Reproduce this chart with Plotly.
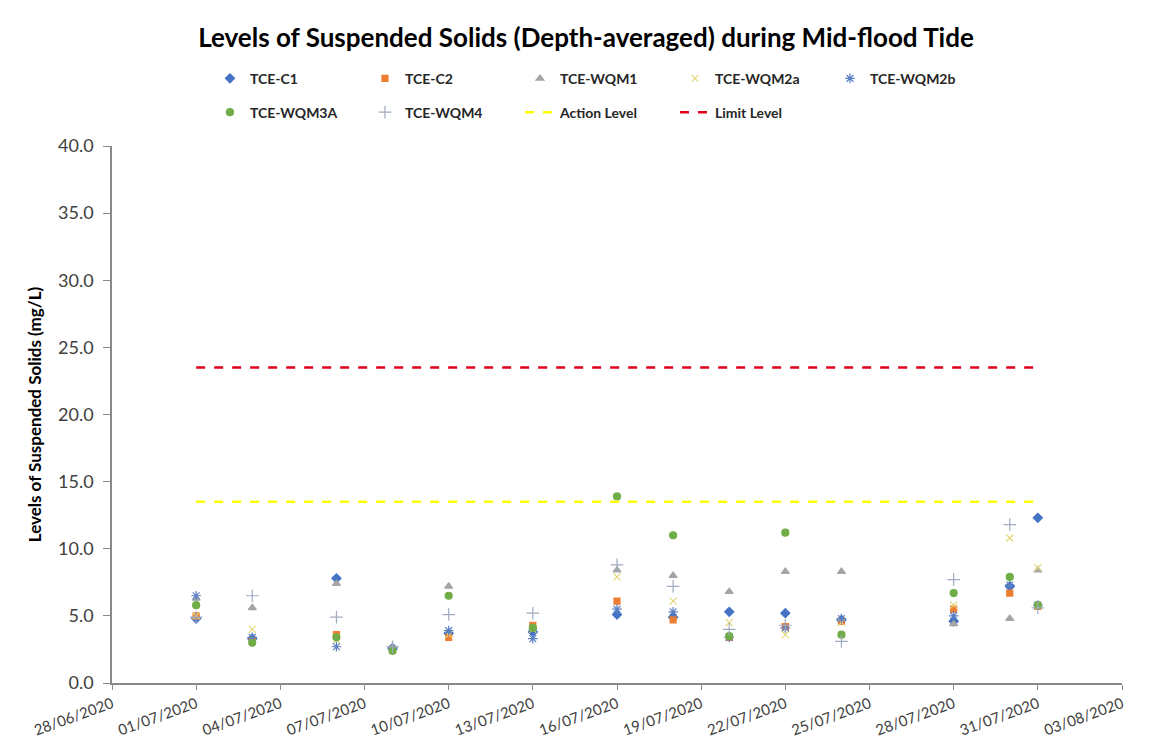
import plotly.graph_objects as go

# datas de amostragem
datas = ['2020-07-01', '2020-07-03', '2020-07-06', '2020-07-08', '2020-07-10',
         '2020-07-13', '2020-07-16', '2020-07-18', '2020-07-20', '2020-07-22',
         '2020-07-24', '2020-07-28', '2020-07-30', '2020-07-31']

tce_c1 = [4.8, 3.3, 7.8, 2.6, 3.7, 3.8, 5.1, 4.9, 5.3, 5.2, 4.7, 4.6, 7.2, 12.3]
tce_c2 = [5.0, 3.2, 3.6, 2.5, 3.4, 4.3, 6.1, 4.7, 3.4, 4.2, 4.6, 5.5, 6.7, 5.7]
tce_wqm1 = [6.3, 5.6, 7.4, 2.6, 7.2, 4.1, 8.4, 8.0, 6.8, 8.3, 8.3, 4.4, 4.8, 8.4]
tce_wqm2a = [5.0, 4.0, 3.2, 2.4, 3.6, 4.0, 7.9, 6.1, 4.5, 3.6, 4.5, 5.8, 10.8, 8.6]
tce_wqm2b = [6.5, 3.4, 2.7, 2.5, 3.9, 3.3, 5.5, 5.3, 3.4, 4.1, 4.8, 5.0, 7.3, 5.8]
tce_wqm3a = [5.8, 3.0, 3.4, 2.4, 6.5, 4.1, 13.9, 11.0, 3.5, 11.2, 3.6, 6.7, 7.9, 5.8]
tce_wqm4 = [4.9, 6.5, 4.9, 2.7, 5.1, 5.2, 8.8, 7.2, 4.0, 4.3, 3.1, 7.7, 11.8, 5.6]

nivel_datas = ['2020-07-01', '2020-07-31']
action_level = [13.5, 13.5]
limit_level = [23.5, 23.5]

fonte = 'Lato'

series = [('TCE-C1', tce_c1, 'diamond', '#4472C4', 7, 'legend'),
          ('TCE-C2', tce_c2, 'square', '#ED7D31', 6, 'legend'),
          ('TCE-WQM1', tce_wqm1, 'triangle-up', '#A5A5A5', 7, 'legend'),
          ('TCE-WQM2a', tce_wqm2a, 'x-thin-open', '#E3D77A', 7, 'legend'),
          ('TCE-WQM2b', tce_wqm2b, 'asterisk-open', '#5B7FC4', 8, 'legend'),
          ('TCE-WQM3A', tce_wqm3a, 'circle', '#70AD47', 7, 'legend2'),
          ('TCE-WQM4', tce_wqm4, 'cross-thin-open', '#A0AAC0', 9, 'legend2')]

data = [go.Scatter(x=datas, y=_y, name=_nome, mode='markers', legend=_leg,
                   marker=dict(symbol=_sym, color=_cor, size=_tam,
                               line=dict(width=1.2, color=_cor)))
        for _nome, _y, _sym, _cor, _tam, _leg in series]

data += [go.Scatter(x=nivel_datas, y=action_level, name='Action Level', mode='lines',
                    legend='legend2', line=dict(color='#FFFF00', width=2.5, dash='dash')),
         go.Scatter(x=nivel_datas, y=limit_level, name='Limit Level', mode='lines',
                    legend='legend2', line=dict(color='#E0001B', width=2.5, dash='dash'))]

fig = go.Figure(data)

leg = dict(orientation='h', xanchor='left', yanchor='top', entrywidth=110,
           bgcolor='rgba(0,0,0,0)', font=dict(family=fonte, size=14, color='#262626', weight='bold'))

fig.update_layout(title=dict(text='<b>Levels of Suspended Solids (Depth-averaged) during Mid-flood Tide</b>',
                             x=0.5, xanchor='center', y=0.96, yanchor='middle',
                             font=dict(family=fonte, size=26, color='#000000')),
                  width=1156,
                  height=756,
                  margin=dict(l=104, r=42, t=138, b=81),
                  plot_bgcolor='white',
                  paper_bgcolor='white',
                  font=dict(family=fonte, color='#404040'),
                  legend=dict(leg, x=0.097, y=1.155),
                  legend2=dict(leg, x=0.097, y=1.092))

fig.update_xaxes(type='date', range=['2020-06-28', '2020-08-03'],
                 tick0='2020-06-28', dtick=3 * 86400000, tickformat='%d/%m/%Y',
                 tickangle=-20, ticks='outside', ticklen=5, tickcolor='#898989',
                 showline=True, linecolor='#898989', linewidth=1.5, showgrid=False,
                 zeroline=False, automargin=False,
                 tickfont=dict(family=fonte, size=15, color='#404040'))

fig.update_yaxes(range=[0, 40], dtick=5, tickformat='.1f', ticks='outside', ticklen=7,
                 ticklabelstandoff=6,
                 tickcolor='#898989', showline=True, linecolor='#898989', linewidth=1.5,
                 showgrid=False, zeroline=False, automargin=False,
                 title=dict(text='<b>Levels of Suspended Solids (mg/L)</b>', standoff=12,
                            font=dict(family=fonte, size=17, color='#000000')),
                 tickfont=dict(family=fonte, size=18, color='#404040'))

fig.write_html('out.html')
